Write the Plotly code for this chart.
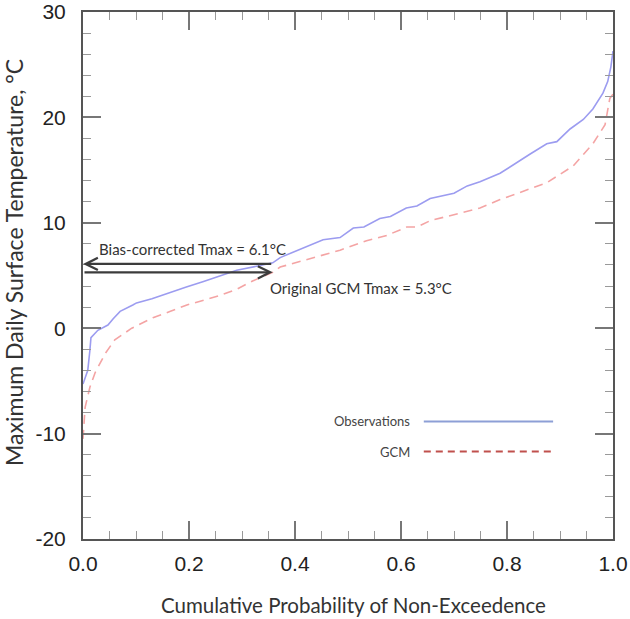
import plotly.graph_objects as go

# ---- data ----
obs_p = [0.000, 0.003, 0.009, 0.013, 0.015, 0.028, 0.047, 0.057, 0.070, 0.094, 0.101, 0.130, 0.164,
         0.195, 0.226, 0.260, 0.290, 0.330, 0.358, 0.372, 0.410, 0.453, 0.485, 0.510, 0.530, 0.560,
         0.580, 0.610, 0.630, 0.655, 0.700, 0.725, 0.749, 0.787, 0.843, 0.875, 0.894, 0.919, 0.944,
         0.962, 0.981, 0.990, 0.996, 0.998, 1.000]
obs_t = [-5.3, -4.9, -4.0, -2.1, -0.9, -0.2, 0.3, 0.9, 1.6, 2.2, 2.4, 2.8, 3.4,
         3.9, 4.4, 5.0, 5.5, 5.9, 6.2, 6.7, 7.5, 8.4, 8.6, 9.5, 9.6, 10.4,
         10.6, 11.4, 11.6, 12.3, 12.8, 13.5, 13.9, 14.7, 16.5, 17.5, 17.7, 18.9, 19.8,
         20.8, 22.3, 23.4, 24.8, 25.9, 26.3]

gcm_p = [0.000, 0.004, 0.013, 0.023, 0.042, 0.060, 0.092, 0.132, 0.165, 0.196, 0.258, 0.290,
         0.321, 0.358, 0.372, 0.415, 0.434, 0.485, 0.535, 0.573, 0.611, 0.630, 0.655, 0.680,
         0.711, 0.749, 0.787, 0.830, 0.875, 0.925, 0.962, 0.985, 0.994, 1.000]
gcm_t = [-10.5, -7.5, -5.6, -4.2, -2.4, -1.1, 0.0, 1.0, 1.6, 2.2, 3.1, 3.7,
         4.5, 5.3, 5.8, 6.4, 6.7, 7.4, 8.3, 8.8, 9.6, 9.6, 10.2, 10.5,
         10.9, 11.4, 12.2, 13.0, 13.8, 15.4, 17.5, 19.3, 21.8, 22.2]

x_ticks = [0.0, 0.2, 0.4, 0.6, 0.8, 1.0]
x_tick_labels = ["0.0", "0.2", "0.4", "0.6", "0.8", "1.0"]
y_ticks = [-20, -10, 0, 10, 20, 30]
y_tick_labels = ["-20", "-10", "0", "10", "20", "30"]

quantile_p = 0.358
bias_corrected = 6.1
original_gcm = 5.3

series_names = ["Observations", "GCM"]
x_title = "Cumulative Probability of Non-Exceedence"
y_title = "Maximum Daily Surface Temperature, °C"

# ---- styles ----
obs_color = "#9c9cf0"
gcm_color = "#f4a4a4"
obs_leg_color = "#8d9fd6"
gcm_leg_color = "#c0504d"
axis_color = "#555555"
tick_color = "#777777"
arrow_color = "#3c3c3c"

fig = go.Figure()
fig.add_trace(go.Scatter(x=obs_p, y=obs_t, mode="lines", name=series_names[0],
                         line=dict(color=obs_color, width=1.6)))
fig.add_trace(go.Scatter(x=gcm_p, y=gcm_t, mode="lines", name=series_names[1],
                         line=dict(color=gcm_color, width=1.6, dash="9px,6px")))

# arrows
fig.add_annotation(x=0, y=bias_corrected, ax=quantile_p, ay=bias_corrected,
                   xref="x", yref="y", axref="x", ayref="y", text="", showarrow=True,
                   arrowhead=5, arrowsize=1.0, arrowwidth=2.4, arrowcolor=arrow_color)
fig.add_annotation(x=quantile_p, y=original_gcm, ax=0, ay=original_gcm,
                   xref="x", yref="y", axref="x", ayref="y", text="", showarrow=True,
                   arrowhead=5, arrowsize=1.0, arrowwidth=2.4, arrowcolor=arrow_color)

txt_font = dict(family="Lato, Open Sans, sans-serif", size=15, color="#333333")
fig.add_annotation(x=0.026, y=7.5, xref="x", yref="y", xanchor="left", yanchor="middle",
                   text=f"Bias-corrected Tmax = {bias_corrected}°C", showarrow=False, font=txt_font)
fig.add_annotation(x=0.349, y=3.8, xref="x", yref="y", xanchor="left", yanchor="middle",
                   text=f"Original GCM Tmax = {original_gcm}°C", showarrow=False, font=txt_font)

# custom legend
leg_font = dict(family="Lato, Open Sans, sans-serif", size=13, color="#444444")
leg_rows = [(0.223, obs_leg_color, "solid"), (0.166, gcm_leg_color, "7px,5px")]
for (yy, col, dsh), name in zip(leg_rows, series_names):
    fig.add_annotation(x=0.621, y=yy, xref="paper", yref="paper", xanchor="right", yanchor="middle",
                       text=name, showarrow=False, font=leg_font)
    fig.add_shape(type="line", xref="paper", yref="paper", x0=0.643, x1=0.887, y0=yy, y1=yy,
                  line=dict(color=col, width=1.8, dash=dsh))

# axis titles
fig.add_annotation(x=-0.13, y=0.524, xref="paper", yref="paper", text=y_title, textangle=-90,
                   showarrow=False, font=dict(family="Lato, Open Sans, sans-serif", size=23, color="#333333"),
                   xanchor="center", yanchor="middle")
fig.add_annotation(x=0.511, y=-0.125, xref="paper", yref="paper", text=x_title,
                   showarrow=False, font=dict(family="Lato, Open Sans, sans-serif", size=20.5, color="#333333"),
                   xanchor="center", yanchor="middle")

tick_font = dict(family="Liberation Sans, Arial, sans-serif", size=21, color="#222222")
fig.update_xaxes(range=[0, 1], tickvals=x_ticks, ticktext=x_tick_labels, ticks="inside",
                 ticklen=18, tickwidth=1.6, tickcolor=tick_color, showline=True, linecolor=axis_color,
                 linewidth=2, mirror="allticks", showgrid=False, zeroline=False, tickfont=tick_font,
                 ticklabelstandoff=5, automargin=False, ticklabeloverflow="allow",
                 minor=dict(ticks="inside", ticklen=8, tickwidth=1.2, tickcolor="#999999", dtick=0.05,
                            showgrid=False))
fig.update_yaxes(range=[-20, 30], tickvals=y_ticks, ticktext=y_tick_labels, ticks="inside",
                 ticklen=18, tickwidth=1.6, tickcolor=tick_color, showline=True, linecolor=axis_color,
                 linewidth=2, mirror="allticks", showgrid=False, zeroline=False, tickfont=tick_font,
                 ticklabelstandoff=11, automargin=False, ticklabeloverflow="allow",
                 minor=dict(ticks="inside", ticklen=8, tickwidth=1.2, tickcolor="#999999", dtick=2,
                            showgrid=False))

fig.update_layout(width=630, height=619, margin=dict(l=83, r=17, t=12, b=80),
                  plot_bgcolor="white", paper_bgcolor="white", showlegend=False)

fig.write_html("out.html", config={"displayModeBar": False},
               post_script="document.body.style.margin='0';document.body.style.overflow='hidden';")
